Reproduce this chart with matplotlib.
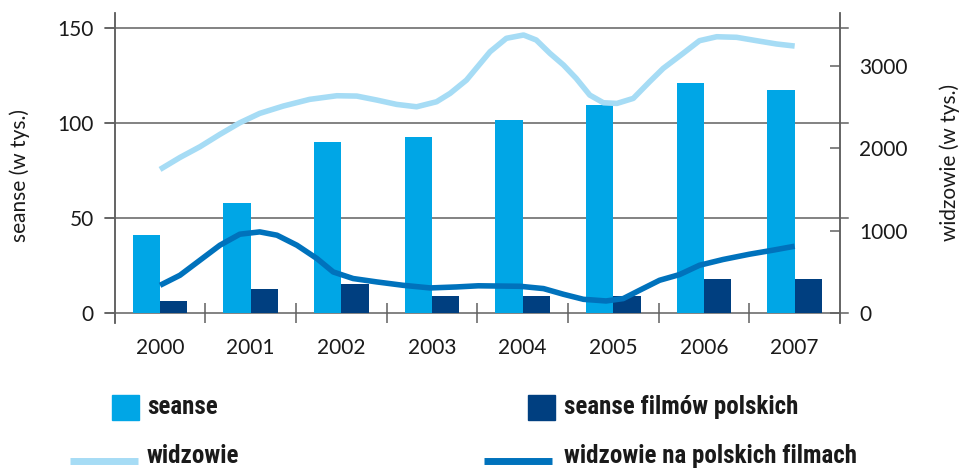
import numpy as np
import matplotlib.pyplot as plt
from matplotlib.patches import Rectangle
from matplotlib.lines import Line2D

# dane
lata = ['2000', '2001', '2002', '2003', '2004', '2005', '2006', '2007']
seanse = [41, 58, 90, 92.6, 101.6, 109.5, 121, 117.4]
seanse_pl = [6.3, 12.6, 15.3, 9, 9, 9, 18, 18]

# widzowie - punkty odczytane wzdluz krzywej (x w latach od 2000)
widz_x = [0.0, 0.22, 0.44, 0.66, 0.88, 1.10, 1.36, 1.65, 1.95, 2.17, 2.39, 2.61,
          2.83, 3.05, 3.20, 3.38, 3.64, 3.82, 4.01, 4.15, 4.30, 4.45, 4.59, 4.74,
          4.89, 5.04, 5.22, 5.40, 5.55, 5.77, 5.95, 6.14, 6.36, 6.58, 6.80, 7.0]
widz = [1742, 1887, 2017, 2167, 2308, 2422, 2511, 2592, 2636, 2632, 2584, 2531,
        2502, 2563, 2665, 2826, 3170, 3333, 3373, 3312, 3151, 3009, 2847, 2644,
        2551, 2543, 2604, 2806, 2968, 3151, 3304, 3352, 3345, 3304, 3264, 3239]

widz_pl_x = [0.0, 0.22, 0.44, 0.66, 0.88, 1.10, 1.29, 1.51, 1.73, 1.91, 2.13, 2.39,
             2.68, 2.98, 3.27, 3.51, 3.97, 4.23, 4.45, 4.67, 4.92, 5.11, 5.29, 5.51,
             5.73, 5.95, 6.21, 6.50, 6.76, 7.0]
widz_pl = [336, 458, 640, 822, 956, 984, 944, 822, 661, 498, 418, 377,
           336, 304, 316, 330, 324, 296, 227, 166, 146, 175, 276, 397,
           466, 579, 649, 713, 762, 810]

c_seanse = '#00a6e6'
c_seanse_pl = '#003f80'
c_widz = '#a6dcf5'
c_widz_pl = '#0072bc'
szary = '#606060'

plt.rcParams['font.family'] = ['Lato', 'DejaVu Sans']

fig = plt.figure(figsize=(9.63, 4.72), dpi=100)
ax = fig.add_axes([114.7 / 963, 1 - 323 / 472, (840 - 114.7) / 963, (323 - 13) / 472])
ax2 = ax.twinx()

x = np.arange(len(lata))
w = 0.3
ax.bar(x - w / 2, seanse, w, color=c_seanse, zorder=3)
ax.bar(x + w / 2, seanse_pl, w, color=c_seanse_pl, zorder=3)

ax.set_xlim(-0.5, 7.5)
ax.set_ylim(-5.26, 157.7)
ax2.set_ylim(-121.5, 3640)

# linie siatki wystajace poza osie
for yv in [0, 50, 100, 150]:
    ax.axhline(yv, xmin=-10 / 725, xmax=1 + 8 / 725, color=szary, lw=1.1,
               clip_on=False, zorder=2)

ax2.plot(widz_x, widz, color=c_widz, lw=4, solid_capstyle='butt',
         solid_joinstyle='round', zorder=4)
ax2.plot(widz_pl_x, widz_pl, color=c_widz_pl, lw=4, solid_capstyle='butt',
         solid_joinstyle='round', zorder=4)
ax2.set_zorder(ax.get_zorder() + 1)
ax2.patch.set_visible(False)

for a in (ax, ax2):
    a.spines['top'].set_visible(False)
    a.spines['bottom'].set_visible(False)
    for s in ('left', 'right'):
        a.spines[s].set_color(szary)
        a.spines[s].set_linewidth(1.1)

# os x: kreski na granicach, etykiety w srodku
ax.set_xticks(np.arange(0.5, 7, 1))
ax.set_xticklabels([])
ax.tick_params(axis='x', which='major', direction='in', length=14.4, width=1.1,
               color=szary)
ax.set_xticks(x, minor=True)
ax.set_xticklabels(lata, minor=True)
ax.tick_params(axis='x', which='minor', length=0, pad=11, labelsize=15,
               labelcolor='#1a1a1a')

ax.set_yticks([0, 50, 100, 150])
ax.tick_params(axis='y', direction='out', length=7.2, width=1.1, color=szary,
               pad=8, labelsize=15, labelcolor='#1a1a1a')
ax2.set_yticks([0, 1000, 2000, 3000])
ax2.tick_params(axis='y', direction='in', length=7.2, width=1.1, color=szary,
                pad=14, labelsize=15, labelcolor='#1a1a1a')

fig.text(20 / 963, 1 - 175 / 472, 'seanse (w tys.)', rotation=90, ha='center',
         va='center', fontsize=15, color='#1a1a1a')
fig.text(950 / 963, 1 - 162 / 472, 'widzowie (w tys.)', rotation=90, ha='center',
         va='center', fontsize=15, color='#1a1a1a')

# legenda
leg_font = dict(fontsize=18, fontweight='bold', color='#1a1a1a',
                family=['Roboto Condensed', 'Roboto', 'DejaVu Sans'], va='center')
fig.patches.append(Rectangle((112 / 963, 1 - 420 / 472), 27 / 963, 25 / 472,
                             transform=fig.transFigure, color=c_seanse))
fig.text(147 / 963, 1 - 407 / 472, 'seanse', **leg_font)
fig.patches.append(Rectangle((528 / 963, 1 - 420 / 472), 27 / 963, 25 / 472,
                             transform=fig.transFigure, color=c_seanse_pl))
fig.text(564 / 963, 1 - 407 / 472, 'seanse filmów polskich', **leg_font)
fig.lines.append(Line2D([70 / 963, 138 / 963], [1 - 461 / 472, 1 - 461 / 472],
                        transform=fig.transFigure, color=c_widz, lw=5,
                        solid_capstyle='butt'))
fig.text(147 / 963, 1 - 456 / 472, 'widzowie', **leg_font)
fig.lines.append(Line2D([484 / 963, 552 / 963], [1 - 461 / 472, 1 - 461 / 472],
                        transform=fig.transFigure, color=c_widz_pl, lw=5,
                        solid_capstyle='butt'))
fig.text(564 / 963, 1 - 456 / 472, 'widzowie na polskich filmach', **leg_font)

fig.savefig('out.png', dpi=100)
